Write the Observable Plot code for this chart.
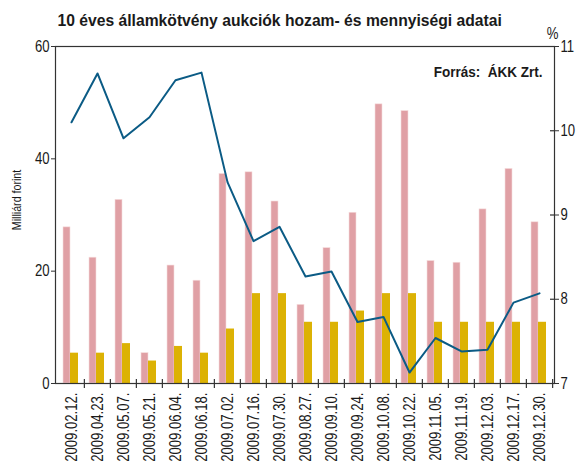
<!DOCTYPE html>
<html>
<head>
<meta charset="utf-8">
<script src="https://cdn.jsdelivr.net/npm/d3@7"></script>
<script src="https://cdn.jsdelivr.net/npm/@observablehq/plot@0.6"></script>
<style>
  html, body { margin: 0; padding: 0; background: white; }
</style>
</head>
<body>
<div id="chart"></div>
<script>
const dates = ["2009.02.12.", "2009.04.23.", "2009.05.07.", "2009.05.21.", "2009.06.04.", "2009.06.18.", "2009.07.02.", "2009.07.16.", "2009.07.30.", "2009.08.27.", "2009.09.10.", "2009.09.24.", "2009.10.08.", "2009.10.22.", "2009.11.05.", "2009.11.19.", "2009.12.03.", "2009.12.17.", "2009.12.30."];
const offered = [27.8, 22.4, 32.7, 5.4, 21.0, 18.3, 37.3, 37.6, 32.4, 14.0, 24.1, 30.4, 49.7, 48.5, 21.8, 21.5, 31.0, 38.2, 28.7];
const accepted = [5.4, 5.4, 7.1, 4.0, 6.6, 5.4, 9.7, 16.0, 16.0, 10.9, 10.9, 12.9, 16.0, 16.0, 10.9, 10.9, 10.9, 10.9, 10.9];
const yieldPct = [10.10, 10.68, 9.91, 10.16, 10.60, 10.69, 9.39, 8.69, 8.86, 8.27, 8.33, 7.73, 7.79, 7.13, 7.54, 7.38, 7.40, 7.96, 8.07];
const leftTicks = [0, 20, 40, 60];
const rightTicks = [7, 8, 9, 10, 11];
const title = "10 éves államkötvény aukciók hozam- és mennyiségi adatai";
const source = "Forrás:  ÁKK Zrt.";
const yLabel = "Milliárd forint";

const rows = dates.map((d, i) => ({date: d, offered: offered[i], accepted: accepted[i], yield: yieldPct[i]}));
const toLeft = v => (v - 7) * 15; // right axis 7..11 -> left 0..60

const W = 576, H = 464, mL = 55, mR = 22, mT = 46, mB = 81;
const plotW = W - mL - mR, plotH = H - mT - mB;
const bw = plotW / dates.length;

const pink = "#e0a0a5", yellow = "#dcb204", blue = "#0b5b85", axis = "#333";
const font = "'Liberation Sans', Arial, sans-serif";

const chart = Plot.plot({
  width: W, height: H,
  marginLeft: mL, marginRight: mR, marginTop: mT, marginBottom: mB,
  style: {fontFamily: font, fontSize: "16px", color: "#1a1a1a", background: "white"},
  x: {type: "band", domain: dates, padding: 0, label: null},
  y: {domain: [0, 60], label: null},
  marks: [
    Plot.barY(rows, {x: "date", y: "offered", fill: pink, stroke: "#f6dcdc", strokeWidth: 0.6, insetLeft: 5, insetRight: 14}),
    Plot.barY(rows, {x: "date", y: "accepted", fill: yellow, insetLeft: 12, insetRight: 6}),
    Plot.line(rows, {x: "date", y: d => toLeft(d.yield), stroke: blue, strokeWidth: 2}),
    Plot.frame({stroke: axis, strokeWidth: 1.2}),
    Plot.ruleX(dates.slice(1), {x: d => d, dx: -bw / 2, insetTop: plotH - 4, insetBottom: -5, stroke: axis, strokeWidth: 1.2}),
    Plot.ruleX([dates[dates.length - 1]], {x: d => d, dx: bw / 2, insetTop: plotH - 4, insetBottom: -5, stroke: axis, strokeWidth: 1.2}),
    Plot.axisX({tickSize: 0, tickPadding: 9, tickRotate: -90, label: null, fontSize: 16}),
    Plot.axisY({anchor: "left", ticks: leftTicks, tickSize: 4, tickPadding: 2, label: null, fontSize: 16, stroke: axis}),
    Plot.axisY({anchor: "right", ticks: rightTicks.map(toLeft), tickFormat: d => String(d / 15 + 7), tickSize: 4, tickPadding: 2, label: null, fontSize: 16, stroke: axis}),
    Plot.ruleY(rightTicks.slice(1, -1).map(toLeft), {insetLeft: plotW - 4, stroke: axis, strokeWidth: 1.2}),
    Plot.text([title], {frameAnchor: "top-left", dx: 2, dy: -26, textAnchor: "start", lineAnchor: "middle", fontWeight: "bold", fontSize: 16.5, fill: "#1a1a1a", className: "w95"}),
    Plot.text([source], {frameAnchor: "top-right", dx: -12, dy: 26, textAnchor: "end", lineAnchor: "middle", fontWeight: "bold", fontSize: 15, fill: "#1a1a1a", className: "w90"}),
    Plot.text(["%"], {frameAnchor: "top-right", dx: -2, dy: -13, textAnchor: "middle", lineAnchor: "middle", fontSize: 16, fill: "#1a1a1a"}),
    Plot.text([yLabel], {frameAnchor: "left", dx: -39, dy: -15, rotate: -90, textAnchor: "middle", lineAnchor: "middle", fontSize: 13, fill: "#1a1a1a"})
  ]
});
document.getElementById("chart").appendChild(chart);
// emulate a narrow (condensed) typeface by compressing glyphs horizontally,
// keeping each text's anchor (start / middle / end) in place
chart.querySelectorAll("text").forEach(t => {
  const L = t.getComputedTextLength();
  if (!(L > 0)) return;
  const factor = t.closest(".w95") ? 0.95 : t.closest(".w90") ? 0.9 : 0.82;
  const anchor = getComputedStyle(t).textAnchor;
  const b0 = t.getBBox();
  t.setAttribute("textLength", (L * factor).toFixed(1));
  t.setAttribute("lengthAdjust", "spacingAndGlyphs");
  const b1 = t.getBBox();
  let shift = 0;
  if (anchor === "end") shift = (b0.x + b0.width) - (b1.x + b1.width);
  else if (anchor === "middle") shift = (b0.x + b0.width / 2) - (b1.x + b1.width / 2);
  else shift = b0.x - b1.x;
  if (Math.abs(shift) > 0.1) t.setAttribute("x", ((+t.getAttribute("x") || 0) + shift).toFixed(1));
});
</script>
</body>
</html>
